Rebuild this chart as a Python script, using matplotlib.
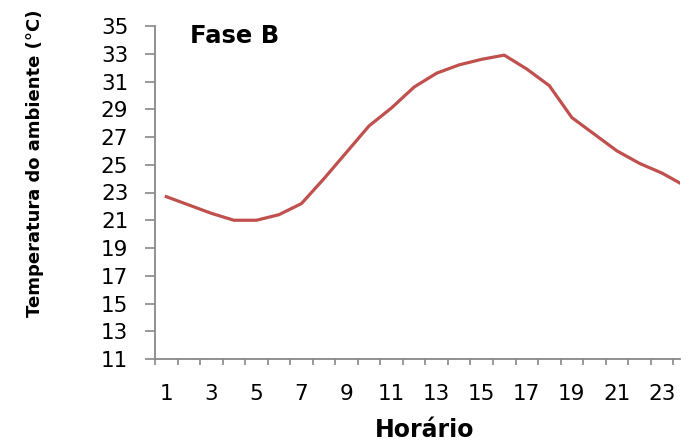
import matplotlib
matplotlib.use("Agg")
import matplotlib.pyplot as plt

hours = list(range(1, 25))
temps = [22.7, 22.1, 21.5, 21.0, 21.0, 21.4, 22.2, 24.0, 25.9, 27.8, 29.1, 30.6,
         31.6, 32.2, 32.6, 32.9, 31.9, 30.7, 28.4, 27.2, 26.0, 25.1, 24.4, 23.5]
yticks = list(range(11, 36, 2))
xticklabels = [str(h) for h in range(1, 24, 2)]

plt.rcParams['font.family'] = ['DejaVu Sans']

fig = plt.figure(figsize=(6.97, 4.45), dpi=100)
W, H = 697, 445
left, right, top, bottom = 155, 680, 26, 359
ax = fig.add_axes([left / W, 1 - bottom / H, (right - left) / W, (bottom - top) / H])

ax.plot(hours, temps, color='#C0504D', linewidth=2.3, solid_joinstyle='round', clip_on=True)

ax.set_ylim(11, 35)
ax.set_yticks(yticks)
ax.set_yticklabels([str(v) for v in yticks], fontsize=15.5)
ax.set_xlim(0.5, 23.8)
ax.set_xticks([h + 0.5 for h in range(0, 24)])
ax.set_xticklabels([])
ax.set_xticks(list(range(1, 24, 2)), minor=True)
ax.set_xticklabels(xticklabels, minor=True, fontsize=15.5)
ax.tick_params(axis='x', which='minor', length=0, pad=18)
ax.tick_params(axis='x', which='major', length=4.5, color='#888888', width=1.2)
ax.tick_params(axis='y', length=7.2, color='#888888', width=1.2, pad=12)

for s in ['top', 'right']:
    ax.spines[s].set_visible(False)
for s in ['left', 'bottom']:
    ax.spines[s].set_color('#888888')
    ax.spines[s].set_linewidth(1.3)

ax.text(190 / W, 1 - 36 / H, 'Fase B', transform=fig.transFigure, fontsize=17.5,
        fontweight='bold', ha='left', va='center')
fig.text(35 / W, 1 - 163 / H, 'Temperatura do ambiente (°C)', rotation=90,
         fontsize=13, fontweight='bold', ha='center', va='center')
fig.text(425 / W, 1 - 430 / H, 'Horário', fontsize=17, fontweight='bold',
         ha='center', va='center')

fig.savefig('out.png', dpi=100)
